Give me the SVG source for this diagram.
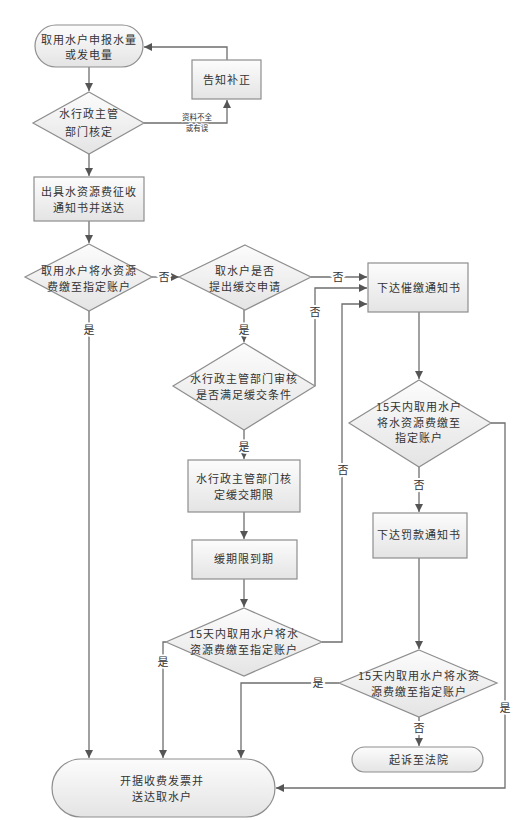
<svg xmlns="http://www.w3.org/2000/svg" width="526" height="820" viewBox="0 0 526 820">
<defs>
<linearGradient id="g" x1="0" y1="0" x2="0" y2="1">
<stop offset="0" stop-color="#fcfcfc"/>
<stop offset="1" stop-color="#e4e4e4"/>
</linearGradient>
<marker id="ah" markerUnits="userSpaceOnUse" markerWidth="9" markerHeight="9" refX="8" refY="4" orient="auto">
<path d="M0,0 L8,4 L0,8 z" fill="#555"/>
</marker>
<style>
.s{fill:url(#g);stroke:#8e8e8e;stroke-width:1.2}
.t{font-family:"Noto Sans CJK SC","Noto Sans",sans-serif;font-size:11px;fill:#333;text-anchor:middle;letter-spacing:1px}
.c{fill:none;stroke:#6e6e6e;stroke-width:1.3;marker-end:url(#ah)}
.l{font-family:"Noto Sans CJK SC","Noto Sans",sans-serif;font-size:11px;fill:#333;text-anchor:middle;stroke:#fff;stroke-width:4;paint-order:stroke}
.sm{font-size:7.5px;stroke-width:2}
</style>
</defs>
<g id="connectors">
<path class="c" d="M89,67 V91"/>
<path class="c" d="M144,123 H227 V100"/>
<path class="c" d="M227,60 V47 H144"/>
<path class="c" d="M89,154 V176"/>
<path class="c" d="M89,221 V243"/>
<path class="c" d="M152,277 H179"/>
<path class="c" d="M311,277 H367"/>
<path class="c" d="M244,310 V342"/>
<path class="c" d="M315,386 V288 H367"/>
<path class="c" d="M244,430 V459"/>
<path class="c" d="M244,512 V539"/>
<path class="c" d="M244,579 V607"/>
<path class="c" d="M322,642 H342 V304 H367"/>
<path class="c" d="M166,642 H163 V758"/>
<path class="c" d="M89,311 V758"/>
<path class="c" d="M419,312 V379"/>
<path class="c" d="M491,423 H505 V788 H276"/>
<path class="c" d="M419,467 V512"/>
<path class="c" d="M419,558 V649"/>
<path class="c" d="M339,683 H241 V758"/>
<path class="c" d="M419,717 V746"/>
<text class="l" x="164" y="281">否</text>
<text class="l" x="338" y="281">否</text>
<text class="l" x="244" y="334">是</text>
<text class="l" x="315" y="316">否</text>
<text class="l" x="244" y="451">是</text>
<text class="l" x="343" y="474">否</text>
<text class="l" x="163" y="666">是</text>
<text class="l" x="89" y="334">是</text>
<text class="l" x="505" y="712">是</text>
<text class="l" x="419" y="489">否</text>
<text class="l" x="318" y="687">是</text>
<text class="l" x="419" y="732">否</text>
<text class="l sm" x="197" y="120">资料不全</text>
<text class="l sm" x="197" y="131">或有误</text>
</g>
<g id="start">
<rect class="s" x="35" y="25" width="108" height="42" rx="21"/>
<text class="t" x="89" y="44">取用水户申报水量</text>
<text class="t" x="89" y="59">或发电量</text>
</g>
<g id="notify">
<rect class="s" x="192" y="60" width="69" height="39"/>
<text class="t" x="227" y="84">告知补正</text>
</g>
<g id="check1">
<polygon class="s" points="89,92 144,123 89,154 33,123"/>
<text class="t" x="89" y="118">水行政主管</text>
<text class="t" x="89" y="136">部门核定</text>
</g>
<g id="issue">
<rect class="s" x="34" y="177" width="110" height="44"/>
<text class="t" x="89" y="196">出具水资源费征收</text>
<text class="t" x="89" y="212">通知书并送达</text>
</g>
<g id="d2">
<polygon class="s" points="89,244 152,277 89,311 25,277"/>
<text class="t" x="89" y="275">取用水户将水资源</text>
<text class="t" x="89" y="291">费缴至指定账户</text>
</g>
<g id="d3">
<polygon class="s" points="245,245 311,277 245,310 179,277"/>
<text class="t" x="245" y="275">取水户是否</text>
<text class="t" x="245" y="291">提出缓交申请</text>
</g>
<g id="urge">
<rect class="s" x="368" y="263" width="100" height="49"/>
<text class="t" x="419" y="292">下达催缴通知书</text>
</g>
<g id="d4">
<polygon class="s" points="244,343 315,386 244,430 173,386"/>
<text class="t" x="244" y="383">水行政主管部门审核</text>
<text class="t" x="244" y="399">是否满足缓交条件</text>
</g>
<g id="defer">
<rect class="s" x="188" y="460" width="112" height="52"/>
<text class="t" x="244" y="483">水行政主管部门核</text>
<text class="t" x="244" y="499">定缓交期限</text>
</g>
<g id="expire">
<rect class="s" x="192" y="540" width="105" height="39"/>
<text class="t" x="244" y="563">缓期限到期</text>
</g>
<g id="d5">
<polygon class="s" points="244,608 322,642 244,676 166,642"/>
<text class="t" x="244" y="638">15天内取用水户将水</text>
<text class="t" x="244" y="654">资源费缴至指定账户</text>
</g>
<g id="d6">
<polygon class="s" points="419,380 491,423 419,467 349,423"/>
<text class="t" x="419" y="411">15天内取用水户</text>
<text class="t" x="419" y="427">将水资源费缴至</text>
<text class="t" x="419" y="442">指定账户</text>
</g>
<g id="fine">
<rect class="s" x="373" y="513" width="94" height="45"/>
<text class="t" x="419" y="539">下达罚款通知书</text>
</g>
<g id="d7">
<polygon class="s" points="419,650 497,683 419,717 339,683"/>
<text class="t" x="419" y="680">15天内取用水户将水资</text>
<text class="t" x="419" y="696">源费缴至指定账户</text>
</g>
<g id="court">
<rect class="s" x="352" y="747" width="131" height="25" rx="12.5"/>
<text class="t" x="419" y="764">起诉至法院</text>
</g>
<g id="end">
<rect class="s" x="52" y="759" width="223" height="58" rx="29"/>
<text class="t" x="162" y="785">开据收费发票并</text>
<text class="t" x="162" y="801">送达取水户</text>
</g>
</svg>
